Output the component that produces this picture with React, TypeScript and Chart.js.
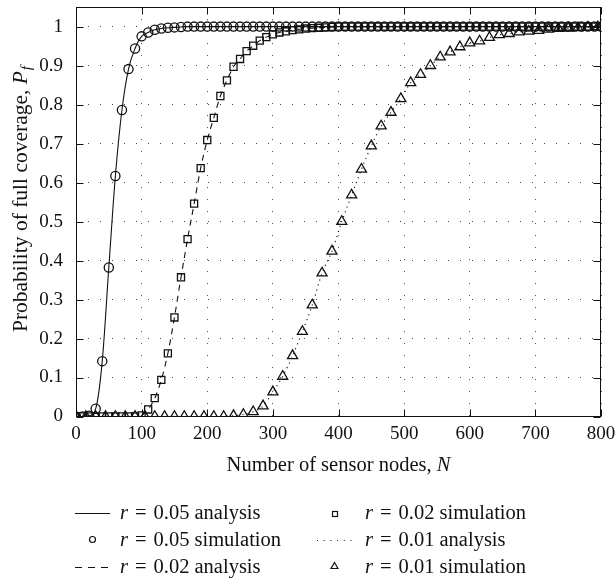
import React, { useEffect, useRef } from "react";
import { Chart, registerables } from "chart.js";

Chart.register(...registerables);

// Number of sensor nodes, N (sample positions)
const N_STEP10 = [
  0, 10, 20, 30, 40, 50, 60, 70, 80, 90,
  100, 110, 120, 130, 140, 150, 160, 170, 180, 190,
  200, 210, 220, 230, 240, 250, 260, 270, 280, 290,
  300, 310, 320, 330, 340, 350, 360, 370, 380, 390,
  400, 410, 420, 430, 440, 450, 460, 470, 480, 490,
  500, 510, 520, 530, 540, 550, 560, 570, 580, 590,
  600, 610, 620, 630, 640, 650, 660, 670, 680, 690,
  700, 710, 720, 730, 740, 750, 760, 770, 780, 790,
  800,
];
const N_STEP15 = [
  0, 15, 30, 45, 60, 75, 90, 105, 120, 135,
  150, 165, 180, 195, 210, 225, 240, 255, 270, 285,
  300, 315, 330, 345, 360, 375, 390, 405, 420, 435,
  450, 465, 480, 495, 510, 525, 540, 555, 570, 585,
  600, 615, 630, 645, 660, 675, 690, 705, 720, 735,
  750, 765, 780, 795,
];

// Probability of full coverage, P_f
const PF_R005 = [
  0, 0, 0.002, 0.02, 0.142, 0.382, 0.617, 0.786, 0.891, 0.944,
  0.975, 0.985, 0.992, 0.995, 0.997, 0.998, 0.999, 1, 1, 1,
  1, 1, 1, 1, 1, 1, 1, 1, 1, 1,
  1, 1, 1, 1, 1, 1, 1, 1, 1, 1,
  1, 1, 1, 1, 1, 1, 1, 1, 1, 1,
  1, 1, 1, 1, 1, 1, 1, 1, 1, 1,
  1, 1, 1, 1, 1, 1, 1, 1, 1, 1,
  1, 1, 1, 1, 1, 1, 1, 1, 1, 1,
  1,
];
const PF_R002 = [
  0, 0, 0, 0, 0, 0, 0, 0, 0, 0,
  0.003, 0.018, 0.047, 0.094, 0.162, 0.254, 0.357, 0.455, 0.546, 0.637,
  0.709, 0.766, 0.822, 0.862, 0.897, 0.917, 0.937, 0.951, 0.964, 0.973,
  0.98, 0.985, 0.988, 0.991, 0.993, 0.995, 0.996, 0.997, 0.998, 0.999,
  1, 1, 1, 1, 1, 1, 1, 1, 1, 1,
  1, 1, 1, 1, 1, 1, 1, 1, 1, 1,
  1, 1, 1, 1, 1, 1, 1, 1, 1, 1,
  1, 1, 1, 1, 1, 1, 1, 1, 1, 1,
  1,
];
const PF_R001 = [
  0, 0, 0, 0, 0, 0, 0, 0, 0, 0,
  0, 0, 0, 0, 0, 0, 0.002, 0.005, 0.012, 0.027,
  0.063, 0.103, 0.156, 0.218, 0.286, 0.368, 0.424, 0.5, 0.568, 0.634,
  0.694, 0.745, 0.78, 0.815, 0.856, 0.877, 0.9, 0.922, 0.935, 0.948,
  0.958, 0.963, 0.972, 0.979, 0.982, 0.986, 0.988, 0.99, 0.993, 0.995,
  0.996, 0.997, 0.998, 0.999,
];

const X_TICKS = [0, 100, 200, 300, 400, 500, 600, 700, 800];
const Y_TICKS = [0, 0.1, 0.2, 0.3, 0.4, 0.5, 0.6, 0.7, 0.8, 0.9, 1];

const X_TITLE = "Number of sensor nodes, ";
const X_TITLE_VAR = "N";
const Y_TITLE = "Probability of full coverage, ";
const Y_TITLE_VAR = "P";
const Y_TITLE_SUB = "f";

const LEGEND_ITEMS = [
  { label: "0.05 analysis", kind: "solid" },
  { label: "0.05 simulation", kind: "circle" },
  { label: "0.02 analysis", kind: "dashed" },
  { label: "0.02 simulation", kind: "square" },
  { label: "0.01 analysis", kind: "dotted" },
  { label: "0.01 simulation", kind: "triangle" },
];

const SERIF = '"Liberation Serif", "Times New Roman", serif';
const INK = "#111";

function toPoints(xs: number[], ys: number[]) {
  return xs.map((x, i) => ({ x, y: ys[i] }));
}

function drawSymbol(ctx: CanvasRenderingContext2D, kind: string, cx: number, cy: number) {
  ctx.save();
  ctx.strokeStyle = INK;
  ctx.lineWidth = 1;
  ctx.setLineDash([]);
  const y = Math.round(cy) + 0.5;
  if (kind === "solid" || kind === "dashed" || kind === "dotted") {
    if (kind === "dashed") ctx.setLineDash([7, 6]);
    if (kind === "dotted") ctx.setLineDash([1, 5.7]);
    ctx.beginPath();
    ctx.moveTo(cx - 17.5, y);
    ctx.lineTo(cx + 17.5, y);
    ctx.stroke();
  } else if (kind === "circle") {
    ctx.lineWidth = 1.2;
    ctx.beginPath();
    ctx.arc(cx, cy, 3, 0, Math.PI * 2);
    ctx.stroke();
  } else if (kind === "square") {
    ctx.lineWidth = 1.2;
    ctx.strokeRect(Math.round(cx - 2.5) + 0.5, Math.round(cy - 2.5) + 0.5, 5, 5);
  } else if (kind === "triangle") {
    ctx.lineWidth = 1.2;
    const r = 4;
    ctx.beginPath();
    ctx.moveTo(cx, cy - r);
    ctx.lineTo(cx + r * 0.866, cy + r * 0.5);
    ctx.lineTo(cx - r * 0.866, cy + r * 0.5);
    ctx.closePath();
    ctx.stroke();
  }
  ctx.restore();
}

const decorPlugin = {
  id: "decor",
  afterDraw(chart: any) {
    const { ctx, chartArea: a, scales } = chart;
    const xs = scales.x;
    const ys = scales.y;
    ctx.save();
    ctx.setLineDash([]);
    ctx.strokeStyle = INK;
    ctx.lineWidth = 1;

    const L = Math.round(a.left) + 0.5;
    const R = Math.round(a.right) - 0.5;
    const T = Math.round(a.top) + 0.5;
    const B = Math.round(a.bottom) - 0.5;
    ctx.strokeRect(L, T, R - L, B - T);

    const TL = 7;
    ctx.beginPath();
    X_TICKS.forEach((v) => {
      const px = Math.round(xs.getPixelForValue(v)) + 0.5;
      ctx.moveTo(px, B);
      ctx.lineTo(px, B - TL);
      ctx.moveTo(px, T);
      ctx.lineTo(px, T + TL);
    });
    Y_TICKS.forEach((v) => {
      const py = Math.round(ys.getPixelForValue(v)) + 0.5;
      ctx.moveTo(L, py);
      ctx.lineTo(L + TL, py);
      ctx.moveTo(R, py);
      ctx.lineTo(R - TL, py);
    });
    ctx.stroke();

    ctx.fillStyle = INK;
    ctx.textBaseline = "alphabetic";
    ctx.textAlign = "left";

    // x title
    const xn = `20.5px ${SERIF}`;
    const xi = `italic 20.5px ${SERIF}`;
    ctx.font = xn;
    const w1 = ctx.measureText(X_TITLE).width;
    ctx.font = xi;
    const w2 = ctx.measureText(X_TITLE_VAR).width;
    const cx = (a.left + a.right) / 2;
    const x0 = cx - (w1 + w2) / 2;
    ctx.font = xn;
    ctx.fillText(X_TITLE, x0, 471);
    ctx.font = xi;
    ctx.fillText(X_TITLE_VAR, x0 + w1, 471);

    // y title (rotated)
    const yn = `21.5px ${SERIF}`;
    const yi = `italic 21.5px ${SERIF}`;
    const ys2 = `italic 15px ${SERIF}`;
    ctx.save();
    ctx.translate(27, 199);
    ctx.rotate(-Math.PI / 2);
    ctx.font = yn;
    const yw1 = ctx.measureText(Y_TITLE).width;
    ctx.font = yi;
    const yw2 = ctx.measureText(Y_TITLE_VAR).width;
    ctx.font = ys2;
    const yw3 = ctx.measureText(Y_TITLE_SUB).width;
    const t0 = -(yw1 + yw2 + yw3 + 1) / 2;
    ctx.font = yn;
    ctx.fillText(Y_TITLE, t0, 0);
    ctx.font = yi;
    ctx.fillText(Y_TITLE_VAR, t0 + yw1, 0);
    ctx.font = ys2;
    ctx.fillText(Y_TITLE_SUB, t0 + yw1 + yw2 + 1, 4);
    ctx.restore();

    // legend
    const ln = `20.5px ${SERIF}`;
    const li = `italic 20.5px ${SERIF}`;
    const rows = [519, 545.5, 572.5];
    const cols = [
      { sym: 92.5, text: 120 },
      { sym: 334.5, text: 365 },
    ];
    LEGEND_ITEMS.forEach((item, i) => {
      const col = cols[Math.floor(i / 3)];
      const base = rows[i % 3];
      drawSymbol(ctx, item.kind, col.sym, base - 6);
      ctx.font = li;
      ctx.fillText("r", col.text, base);
      ctx.font = ln;
      ctx.fillText("=", col.text + 15, base);
      ctx.fillText(item.label, col.text + 33.5, base);
    });

    ctx.restore();
  },
};

export default function App() {
  const ref = useRef<HTMLCanvasElement | null>(null);

  useEffect(() => {
    if (!ref.current) return;
    const markerBase = {
      showLine: false,
      borderColor: INK,
      backgroundColor: "rgba(0,0,0,0)",
      pointBorderColor: INK,
      pointBackgroundColor: "rgba(0,0,0,0)",
      pointBorderWidth: 1.3,
    };
    const lineBase = {
      borderColor: INK,
      borderWidth: 1.1,
      pointRadius: 0,
      fill: false,
      cubicInterpolationMode: "monotone" as const,
    };
    const zeroPadding = (s: any) => {
      s.paddingTop = 0;
      s.paddingBottom = 0;
      s.paddingLeft = 0;
      s.paddingRight = 0;
    };
    const chart = new Chart(ref.current, {
      type: "line",
      data: {
        datasets: [
          { ...lineBase, label: "r = 0.05 analysis", data: toPoints(N_STEP10, PF_R005) },
          { ...markerBase, label: "r = 0.05 simulation", data: toPoints(N_STEP10, PF_R005), pointStyle: "circle", pointRadius: 4.6 },
          { ...lineBase, label: "r = 0.02 analysis", data: toPoints(N_STEP10, PF_R002), borderDash: [6, 5] },
          { ...markerBase, label: "r = 0.02 simulation", data: toPoints(N_STEP10, PF_R002), pointStyle: "rect", pointRadius: 5 },
          { ...lineBase, label: "r = 0.01 analysis", data: toPoints(N_STEP15, PF_R001), borderDash: [1.2, 4] },
          { ...markerBase, label: "r = 0.01 simulation", data: toPoints(N_STEP15, PF_R001), pointStyle: "triangle", pointRadius: 5.8 },
        ],
      },
      options: {
        animation: false,
        responsive: false,
        devicePixelRatio: 1,
        layout: { padding: { left: 0, right: 15, top: 3, bottom: 0 } },
        plugins: { legend: { display: false }, tooltip: { enabled: false } },
        scales: {
          x: {
            type: "linear",
            min: 0,
            max: 800,
            afterBuildTicks: (s: any) => {
              s.ticks = X_TICKS.map((v) => ({ value: v }));
            },
            afterFit: (s: any) => {
              s.height = 166.5;
              zeroPadding(s);
            },
            ticks: {
              autoSkip: false,
              maxRotation: 0,
              padding: 6,
              color: INK,
              font: { family: SERIF, size: 19 },
              callback: (v: any) => String(v),
            },
            grid: { color: "#444", lineWidth: 1, drawTicks: false, borderDash: [1, 11] } as any,
            border: { display: false, dash: [1, 11] },
          },
          y: {
            type: "linear",
            min: 0,
            max: 1.05,
            afterBuildTicks: (s: any) => {
              s.ticks = Y_TICKS.map((v) => ({ value: v }));
            },
            afterFit: (s: any) => {
              s.width = 76;
              zeroPadding(s);
            },
            ticks: {
              padding: 13,
              color: INK,
              font: { family: SERIF, size: 19 },
              callback: (v: any) => String(Math.round(Number(v) * 10) / 10),
            },
            grid: { color: "#444", lineWidth: 1, drawTicks: false, borderDash: [1, 11] } as any,
            border: { display: false, dash: [1, 11] },
          },
        },
      },
      plugins: [decorPlugin],
    } as any);
    return () => chart.destroy();
  }, []);

  return (
    <div style={{ position: "absolute", left: 0, top: 0, width: 616, height: 583, background: "#fff" }}>
      <canvas ref={ref} width={616} height={583} style={{ display: "block", width: 616, height: 583 }} />
    </div>
  );
}
